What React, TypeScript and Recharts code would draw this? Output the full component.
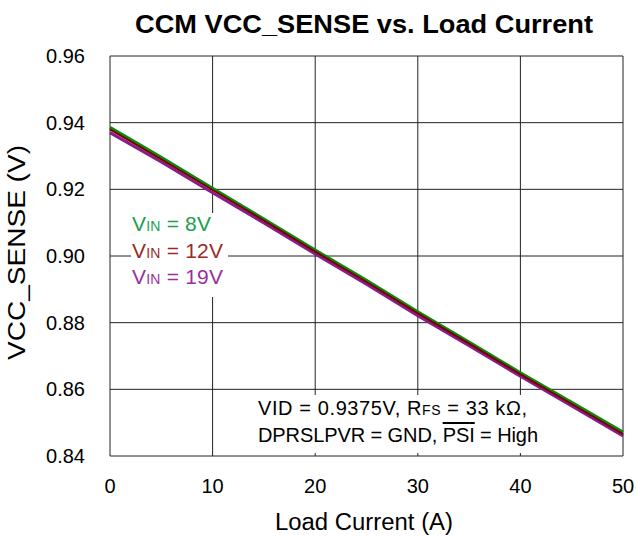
import React from "react";
import { LineChart, Line, XAxis, YAxis, CartesianGrid } from "recharts";

const loadCurrent = [0, 5, 10, 15, 20, 25, 30, 35, 40, 45, 50];
const vin8 = [0.9386, 0.9296, 0.9203, 0.9111, 0.9018, 0.8927, 0.8833, 0.8742, 0.865, 0.8561, 0.8472];
const vin12 = [0.938, 0.929, 0.9198, 0.9106, 0.9013, 0.8922, 0.8828, 0.8737, 0.8645, 0.8556, 0.8466];
const vin19 = [0.937, 0.9282, 0.919, 0.9099, 0.9006, 0.8915, 0.8821, 0.8731, 0.8639, 0.855, 0.846];
const xTicks = [0, 10, 20, 30, 40, 50];
const yTicks = [0.84, 0.86, 0.88, 0.9, 0.92, 0.94, 0.96];

const data = loadCurrent.map((x, i) => ({ x, v8: vin8[i], v12: vin12[i], v19: vin19[i] }));

const FONT = "'Liberation Sans', Arial, sans-serif";

export default function App() {
  return (
    <div style={{ position: "absolute", left: 0, top: 0, width: 637, height: 536, background: "#fff", fontFamily: FONT }}>
      <LineChart width={637} height={536} data={data} margin={{ top: 56, right: 14, bottom: 0, left: 0 }}>
        <CartesianGrid stroke="#222" strokeWidth={1} />
        <XAxis
          dataKey="x"
          type="number"
          domain={[0, 50]}
          ticks={xTicks}
          height={80}
          tickLine={false}
          axisLine={false}
          tickMargin={17}
          tick={{ fill: "#000", fontSize: 20, fontFamily: FONT }}
        />
        <YAxis
          type="number"
          domain={[0.84, 0.96]}
          ticks={yTicks}
          width={110}
          tickLine={false}
          axisLine={false}
          tickMargin={19}
          tickFormatter={(v: number) => v.toFixed(2)}
          tick={{ fill: "#000", fontSize: 20, fontFamily: FONT }}
        />
        <Line type="linear" dataKey="v8" stroke="#0a8a0a" strokeWidth={3} dot={false} isAnimationActive={false} />
        <Line type="linear" dataKey="v19" stroke="#8b1a8b" strokeWidth={3} dot={false} isAnimationActive={false} />
        <Line type="linear" dataKey="v12" stroke="#7a0000" strokeWidth={2} dot={false} isAnimationActive={false} />
      </LineChart>
      <svg width={637} height={536} style={{ position: "absolute", left: 0, top: 0, pointerEvents: "none" }}>
        <text x={364} y={33} textAnchor="middle" fontFamily={FONT} fontWeight="bold" fontSize={26} textLength={458} lengthAdjust="spacingAndGlyphs" fill="#000">
          CCM VCC_SENSE vs. Load Current
        </text>
        <text x={364} y={530} textAnchor="middle" fontFamily={FONT} fontSize={23.5} textLength={178} lengthAdjust="spacingAndGlyphs" fill="#000">
          Load Current (A)
        </text>
        <text x={0} y={0} transform="translate(25,252.5) rotate(-90)" textAnchor="middle" fontFamily={FONT} fontSize={23.5} textLength={215} lengthAdjust="spacingAndGlyphs" fill="#000">
          VCC_SENSE (V)
        </text>
        <rect x={131} y={213} width={97} height={84} fill="#fff" />
        <text x={132} y={231} fontFamily={FONT} fontSize={21} fill="#1aa050" textLength={79} lengthAdjust="spacing">
          V<tspan fontSize={14}>IN</tspan> = 8V
        </text>
        <text x={132} y={258} fontFamily={FONT} fontSize={21} fill="#9b2a2a" textLength={91} lengthAdjust="spacing">
          V<tspan fontSize={14}>IN</tspan> = 12V
        </text>
        <text x={132} y={284} fontFamily={FONT} fontSize={21} fill="#9b2f9b" textLength={91} lengthAdjust="spacing">
          V<tspan fontSize={14}>IN</tspan> = 19V
        </text>
        <rect x={252} y={395} width={294} height={58} fill="#fff" />
        <text x={258} y={415} fontFamily={FONT} fontSize={20} fill="#000" textLength={269} lengthAdjust="spacing">
          VID = 0.9375V, R<tspan fontSize={14}>FS</tspan> = 33 kΩ,
        </text>
        <text x={258} y={442} fontFamily={FONT} fontSize={20} fill="#000" textLength={280} lengthAdjust="spacing">
          DPRSLPVR = GND, <tspan style={{ textDecoration: "overline" }}>PSI</tspan> = High
        </text>
      </svg>
    </div>
  );
}
